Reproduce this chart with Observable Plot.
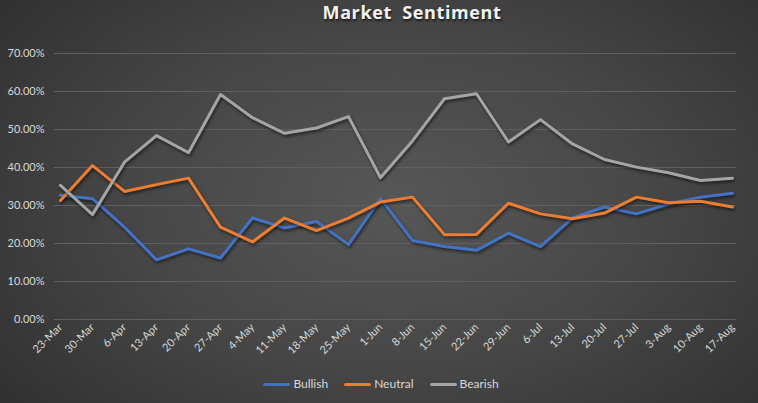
<!DOCTYPE html>
<html>
<head>
<meta charset="utf-8">
<script src="https://cdn.jsdelivr.net/npm/d3@7"></script>
<script src="https://cdn.jsdelivr.net/npm/@observablehq/plot@0.6"></script>
<style>
  html, body { margin: 0; padding: 0; }
  #chart {
    position: relative; width: 758px; height: 403px; overflow: hidden;
    background: radial-gradient(ellipse 75% 90% at 52% 50%, #575757 0%, #474747 45%, #2b2b2b 100%);
    font-family: Lato, "Open Sans", sans-serif;
  }
  #title {
    height: 40px; line-height: 42px; text-align: center; color: #f2f2f2;
    font: bold 18px "Open Sans", sans-serif; letter-spacing: 0.6px; padding-left: 66px;
    text-shadow: 1px 2px 2px rgba(0,0,0,0.6);
  }
  #legend { height: 26px; display: flex; justify-content: center; align-items: center; gap: 16px; padding-left: 4px; color: #d9d9d9; font: 12px Lato, sans-serif; }
  #legend span.sw { display: inline-block; width: 27px; height: 3px; border-radius: 2px; margin-right: 3px; vertical-align: middle; }
  svg g[aria-label="line"] path { filter: drop-shadow(1px 2px 1.5px rgba(0,0,0,0.55)); }
</style>
</head>
<body>
<div id="chart">
  <div id="title">Market&nbsp; Sentiment</div>
  <div id="plot"></div>
  <div id="legend"></div>
</div>
<script>
const dates = ["23-Mar","30-Mar","6-Apr","13-Apr","20-Apr","27-Apr","4-May","11-May","18-May","25-May","1-Jun","8-Jun","15-Jun","22-Jun","29-Jun","6-Jul","13-Jul","20-Jul","27-Jul","3-Aug","10-Aug","17-Aug"];
const bullish = [32.7,31.8,24.3,15.7,18.6,16.2,26.7,24.1,25.8,19.7,31.8,20.8,19.2,18.2,22.7,19.2,26.7,29.6,27.8,30.4,32.2,33.2];
const neutral = [31.3,40.5,33.7,35.5,37.2,24.3,20.4,26.7,23.4,26.7,30.9,32.2,22.3,22.4,30.6,27.8,26.5,28.0,32.2,30.7,31.1,29.6];
const bearish = [35.3,27.6,41.4,48.4,43.9,59.2,53.1,49.0,50.4,53.4,37.3,47.0,58.1,59.4,46.7,52.6,46.2,42.1,40.1,38.6,36.6,37.2];
const seriesNames = ["Bullish","Neutral","Bearish"];
const seriesColors = ["#4472C4","#ED7D31","#A5A5A5"];
const yTicks = [0,10,20,30,40,50,60,70];

const seriesValues = [bullish, neutral, bearish];
const data = seriesNames.flatMap((s, i) => dates.map((d, j) => ({date: d, series: s, value: seriesValues[i][j]})));

const plot = Plot.plot({
  width: 758, height: 330,
  marginLeft: 57, marginRight: 24, marginTop: 13, marginBottom: 51,
  style: {background: "transparent", color: "#d9d9d9", fontFamily: "Lato, sans-serif", fontSize: "11px"},
  x: {type: "point", domain: dates, padding: 0, label: null, tickRotate: -45, tickSize: 0, tickPadding: 6},
  y: {domain: [0, 70], ticks: yTicks, tickFormat: d => d.toFixed(2) + "%", label: null, tickSize: 0, tickPadding: 13},
  color: {domain: seriesNames, range: seriesColors},
  marks: [
    Plot.ruleY(yTicks, {stroke: "#5f5f5f", strokeWidth: 1, insetLeft: -3, insetRight: -2}),
    Plot.line(data, {x: "date", y: "value", z: "series", stroke: "series", strokeWidth: 3, strokeLinejoin: "round", strokeLinecap: "round"})
  ]
});
document.getElementById("plot").appendChild(plot);
plot.querySelectorAll("text").forEach(t => t.setAttribute("fill", "#d9d9d9"));

const legend = document.getElementById("legend");
seriesNames.forEach((s, i) => {
  const item = document.createElement("div");
  item.innerHTML = `<span class="sw" style="background:${seriesColors[i]}"></span>${s}`;
  legend.appendChild(item);
});
</script>
</body>
</html>
